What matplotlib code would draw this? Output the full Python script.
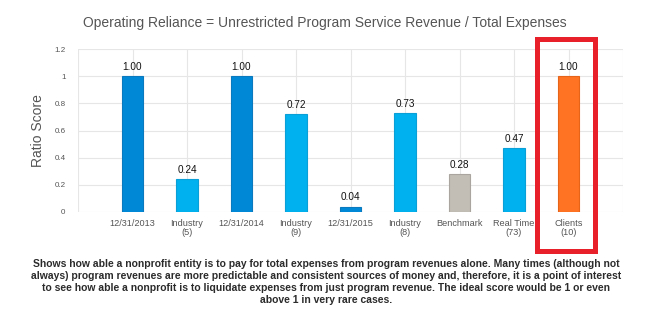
import matplotlib
matplotlib.use("Agg")
import matplotlib.pyplot as plt
from matplotlib.patches import Rectangle

categories = ["12/31/2013", "Industry\n(5)", "12/31/2014", "Industry\n(9)", "12/31/2015",
              "Industry\n(8)", "Benchmark", "Real Time\n(73)", "Clients\n(10)"]
values = [1.00, 0.24, 1.00, 0.72, 0.04, 0.73, 0.28, 0.47, 1.00]
colors = ["#0088d7", "#00b1ef", "#0088d7", "#00b1ef", "#0088d7",
          "#00b1ef", "#c2beb6", "#00b1ef", "#ff7322"]
edges = ["#0a79bd", "#0a9fd6", "#0a79bd", "#0a9fd6", "#0a79bd",
         "#0a9fd6", "#aaa69f", "#0a9fd6", "#e5641a"]
yticks = [0, 0.2, 0.4, 0.6, 0.8, 1, 1.2]
ytick_labels = ["0", "0.2", "0.4", "0.6", "0.8", "1", "1.2"]

title = "Operating Reliance = Unrestricted Program Service Revenue / Total Expenses"
note = ("Shows how able a nonprofit entity is to pay for total expenses from program revenues alone. Many times (although not\n"
        "always) program revenues are more predictable and consistent sources of money and, therefore, it is a point of interest\n"
        "to see how able a nonprofit is to liquidate expenses from just program revenue. The ideal score would be 1 or even\n"
        "above 1 in very rare cases.")

plt.rcParams['font.family'] = ['Liberation Sans', 'DejaVu Sans']

W, H = 653, 322
fig = plt.figure(figsize=(W / 100, H / 100), dpi=100)
ax = fig.add_axes([78 / W, (H - 212) / H, (623 - 78) / W, (212 - 49) / H])

xs = list(range(1, len(values) + 1))
ax.bar(xs, values, width=0.39, color=colors, edgecolor=edges, linewidth=0.8, zorder=3)
for x, v in zip(xs, values):
    ax.text(x, v + 0.03, "%.2f" % v, ha="center", va="bottom", fontsize=7.2, color="#111111", zorder=4)

ax.set_xlim(0, 10)
ax.set_ylim(0, 1.2)
ax.set_yticks(yticks)
ax.set_yticklabels(ytick_labels)
ax.set_xticks(range(0, 11))
ax.set_xticklabels([""] + categories + [""], linespacing=1.05)
ax.tick_params(axis="x", length=0, labelsize=6.6, labelcolor="#555555", pad=5)
ax.tick_params(axis="y", length=0, labelsize=5.8, labelcolor="#555555", pad=9)
ax.grid(True, color="#e6e6e6", linewidth=0.8, zorder=0)
for s in ax.spines.values():
    s.set_visible(False)
ax.set_ylabel("Ratio Score", fontsize=10, color="#555555", labelpad=7)

fig.text(325 / W, 1 - 23 / H, title, ha="center", va="center", fontsize=10, color="#555555")

fig.text(326 / W, 1 - 282 / H, note, ha="center", va="center", fontsize=7.5,
         fontweight="bold", color="#2b2b2b", linespacing=1.25,
         family=['Liberation Sans Narrow', 'Liberation Sans', 'DejaVu Sans'])

# highlight box around the Clients column
fig.patches.append(Rectangle((537 / W, 1 - 251 / H), (595 - 537) / W, (251 - 39) / H,
                             transform=fig.transFigure, fill=False,
                             edgecolor="#e8202a", linewidth=3.6, zorder=10))

fig.savefig("out.png", dpi=100)
